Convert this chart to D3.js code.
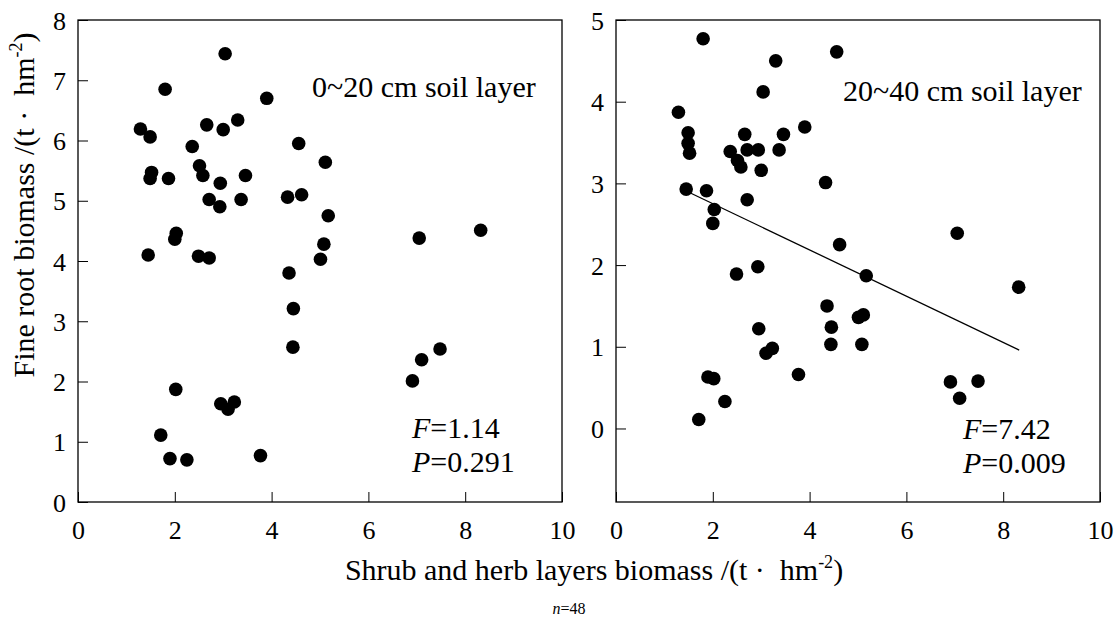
<!DOCTYPE html>
<html><head><meta charset="utf-8">
<script src="https://cdn.jsdelivr.net/npm/d3@7"></script>
<style>
html,body{margin:0;padding:0;background:#fff;}
</style></head>
<body>
<svg id="chart" width="1118" height="618"></svg>
<script>
// Shrub and herb layer biomass (shared x for both panels)
const shrubBiomass = [1.29,1.45,1.49,1.49,1.52,1.71,1.80,1.87,1.90,2.00,2.02,2.03,2.25,2.36,2.49,2.51,2.58,2.66,2.71,2.71,2.93,2.94,2.95,3.00,3.04,3.10,3.23,3.30,3.37,3.46,3.77,3.90,4.33,4.36,4.44,4.45,4.56,4.62,5.01,5.08,5.11,5.17,6.91,7.05,7.10,7.48,8.32];
// Fine root biomass 0~20 cm
const fineRoot0_20 = [6.19,4.10,6.06,5.37,5.47,1.11,6.85,5.37,0.72,4.36,1.87,4.46,0.70,5.90,4.08,5.58,5.42,6.26,5.02,4.05,4.90,5.29,1.63,6.18,7.44,1.54,1.66,6.34,5.02,5.42,0.77,6.70,5.06,3.80,2.57,3.21,5.95,5.10,4.03,4.28,5.64,4.75,2.01,4.38,2.36,2.54,4.51];
// Fine root biomass 20~40 cm
const fineRoot20_40 = [3.87,2.93,3.62,3.49,3.37,0.11,4.77,2.91,0.63,2.51,0.61,2.68,0.33,3.39,1.89,3.28,3.20,3.60,2.80,3.41,1.98,3.41,1.22,3.16,4.12,0.92,0.98,4.50,3.41,3.60,0.66,3.69,3.01,1.50,1.03,1.24,4.61,2.25,1.36,1.03,1.39,1.87,0.57,2.39,0.37,0.58,1.73];
// Regression line (20~40 cm) endpoints
const fitX = [1.44, 8.33];
const fitY = [2.91, 0.96];
const xTicks = [0,2,4,6,8,10];
const yTicksLeft = [0,1,2,3,4,5,6,7,8];
const yTicksRight = [0,1,2,3,4,5];
const panelLabels = ["0~20 cm soil layer","20~40 cm soil layer"];
const statF = ["1.14","7.42"];
const statP = ["0.291","0.009"];

const FONT = "'Liberation Serif', 'Times New Roman', serif";
const svg = d3.select("#chart").style("font-family", FONT);
const plotTop = 20, plotBottom = 502;

const panels = [
  {x0:78, x1:562, ydom:[0,8], yt:yTicksLeft, data:fineRoot0_20, label:panelLabels[0], lx:312, ly:97, sx:412, sy:438, F:statF[0], P:statP[0]},
  {x0:616, x1:1100, ydom:[-0.9,5], yt:yTicksRight, data:fineRoot20_40, label:panelLabels[1], lx:843, ly:101, sx:963, sy:439, F:statF[1], P:statP[1], fit:true}
];

panels.forEach(p => {
  const x = d3.scaleLinear().domain([0,10]).range([p.x0,p.x1]);
  const y = d3.scaleLinear().domain(p.ydom).range([plotBottom,plotTop]);
  const g = svg.append("g");

  g.append("rect").attr("x",p.x0).attr("y",plotTop).attr("width",p.x1-p.x0).attr("height",plotBottom-plotTop)
    .attr("fill","none").attr("stroke","#000").attr("stroke-width",1.3);

  const xa = d3.axisBottom(x).tickValues(xTicks).tickSizeInner(-10).tickSizeOuter(0).tickPadding(19).tickFormat(d3.format("d"));
  const gx = g.append("g").attr("transform",`translate(0,${plotBottom})`).call(xa);
  gx.attr("font-family", null);
  gx.select(".domain").remove();
  gx.selectAll("line").attr("stroke","#000").attr("stroke-width",1);
  gx.selectAll("text").style("font-family",FONT).style("font-size","26px").attr("fill","#000").attr("dy","0.71em");

  const ya = d3.axisLeft(y).tickValues(p.yt).tickSizeInner(-10).tickSizeOuter(0).tickPadding(12).tickFormat(d3.format("d"));
  const gy = g.append("g").attr("transform",`translate(${p.x0},0)`).call(ya);
  gy.attr("font-family", null);
  gy.select(".domain").remove();
  gy.selectAll("line").attr("stroke","#000").attr("stroke-width",1);
  gy.selectAll("text").style("font-family",FONT).style("font-size","26px").attr("fill","#000").attr("dy","0.35em");

  if (p.fit) {
    g.append("line").attr("x1",x(fitX[0])).attr("y1",y(fitY[0])).attr("x2",x(fitX[1])).attr("y2",y(fitY[1]))
      .attr("stroke","#000").attr("stroke-width",1.3);
  }

  g.selectAll("circle.pt").data(p.data).enter().append("circle").attr("class","pt")
    .attr("cx",(d,i)=>x(shrubBiomass[i])).attr("cy",d=>y(d)).attr("r",6.8).attr("fill","#000");

  g.append("text").attr("x",p.lx).attr("y",p.ly).style("font-family",FONT).style("font-size","30px").text(p.label);

  const tF = g.append("text").attr("x",p.sx).attr("y",p.sy).style("font-family",FONT).style("font-size","30px");
  tF.append("tspan").style("font-style","italic").text("F");
  tF.append("tspan").text("=" + p.F);
  const tP = g.append("text").attr("x",p.sx).attr("y",p.sy+34).style("font-family",FONT).style("font-size","30px");
  tP.append("tspan").style("font-style","italic").text("P");
  tP.append("tspan").text("=" + p.P);
});

const yt = svg.append("text").attr("transform","translate(34,205) rotate(-90)")
  .attr("text-anchor","middle").style("font-family",FONT).style("font-size","30px");
yt.append("tspan").text("Fine root biomass /(t \u00b7\u00a0 hm");
yt.append("tspan").attr("dy",-12).style("font-size","18px").text("-2");
yt.append("tspan").attr("dy",12).text(")");

const xt = svg.append("text").attr("x",594).attr("y",580).attr("text-anchor","middle").style("font-family",FONT).style("font-size","30px");
xt.append("tspan").text("Shrub and herb layers biomass /(t \u00b7\u00a0 hm");
xt.append("tspan").attr("dy",-12).style("font-size","18px").text("-2");
xt.append("tspan").attr("dy",12).text(")");

const nt = svg.append("text").attr("x",569).attr("y",614).attr("text-anchor","middle").style("font-family",FONT).style("font-size","16px");
nt.append("tspan").style("font-style","italic").text("n");
nt.append("tspan").text("=48");
</script>
</body></html>
